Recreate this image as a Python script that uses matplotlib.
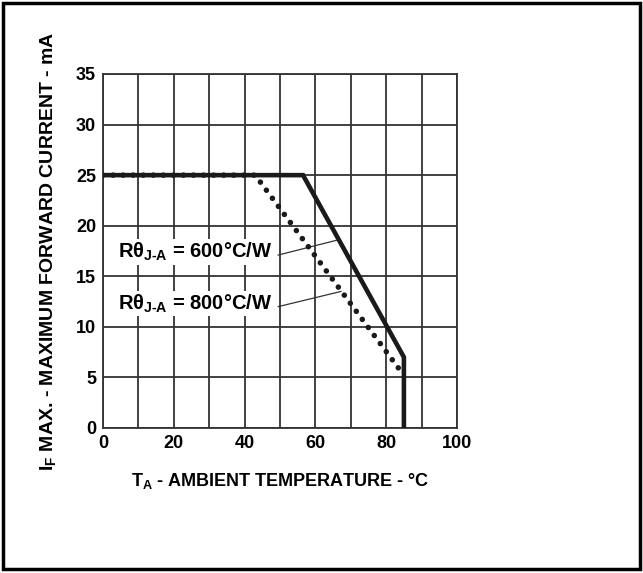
import matplotlib.pyplot as plt
from matplotlib.patches import Rectangle

plt.rcParams['font.family'] = ['Liberation Sans', 'DejaVu Sans']
plt.rcParams['font.weight'] = 'bold'
plt.rcParams['mathtext.fontset'] = 'custom'
plt.rcParams['mathtext.rm'] = 'Liberation Sans:bold'
plt.rcParams['mathtext.bf'] = 'Liberation Sans:bold'
plt.rcParams['mathtext.it'] = 'Liberation Sans:bold'

# derating curves (ambient temp degC, max forward current mA)
temp_600 = [0, 56.5, 85, 85]
curr_600 = [25, 25, 7, 0]
temp_800 = [0, 43, 85, 85]
curr_800 = [25, 25, 5.2, 0]

x_ticks = [0, 20, 40, 60, 80, 100]
y_ticks = [0, 5, 10, 15, 20, 25, 30, 35]

fig = plt.figure(figsize=(6.43, 5.73), dpi=100)
ax = fig.add_axes([103 / 643, 1 - 428 / 573, 354 / 643, 354 / 573])

# grid every 10 degC / 5 mA
for gx in range(0, 101, 10):
    ax.axvline(gx, color='#333333', lw=1.3, zorder=1)
for gy in y_ticks:
    ax.axhline(gy, color='#333333', lw=1.3, zorder=1)

ax.plot(temp_600, curr_600, color='#1a1a1a', lw=3.3, zorder=4, solid_joinstyle='miter')
ax.plot(temp_800[:3], curr_800[:3], color='#1a1a1a', lw=4.0, zorder=3,
        linestyle=(0, (0.01, 1.8)), dash_capstyle='round')

ax.set_xlim(0, 100)
ax.set_ylim(0, 35)
ax.set_xticks(x_ticks)
ax.set_yticks(y_ticks)
ax.tick_params(length=0, labelsize=13, pad=5)
for lab in ax.get_xticklabels() + ax.get_yticklabels():
    lab.set_fontweight('bold')
for s in ax.spines.values():
    s.set_color('#333333')
    s.set_linewidth(1.3)

ax.set_xlabel(r'T$_{\mathrm{A}}$ - AMBIENT TEMPERATURE - °C', fontsize=13, fontweight='bold', labelpad=14)
ax.set_ylabel(r'I$_{\mathrm{F}}$ MAX. - MAXIMUM FORWARD CURRENT - mA', fontsize=14, fontweight='bold', labelpad=13)

# labels with leader lines
ax.text(4.3, 17.4, r'R$\theta_{\mathrm{J‐A}}$ = 600°C/W', fontsize=14.5, fontweight='bold', va='center', ha='left',
        bbox=dict(facecolor='white', edgecolor='none', pad=1), zorder=2)
ax.plot([49.5, 66.4], [17.1, 18.6], color='#333333', lw=0.9, zorder=2)
ax.text(4.3, 12.3, r'R$\theta_{\mathrm{J‐A}}$ = 800°C/W', fontsize=14.5, fontweight='bold', va='center', ha='left',
        bbox=dict(facecolor='white', edgecolor='none', pad=1), zorder=2)
ax.plot([49.5, 67.2], [12.0, 13.5], color='#333333', lw=0.9, zorder=2)

# outer frame
fig.patches.append(Rectangle((3 / 643, 4 / 573), 637 / 643, 566 / 573, transform=fig.transFigure,
                             fill=False, edgecolor='black', lw=2.5))

fig.savefig('out.png', dpi=100)
